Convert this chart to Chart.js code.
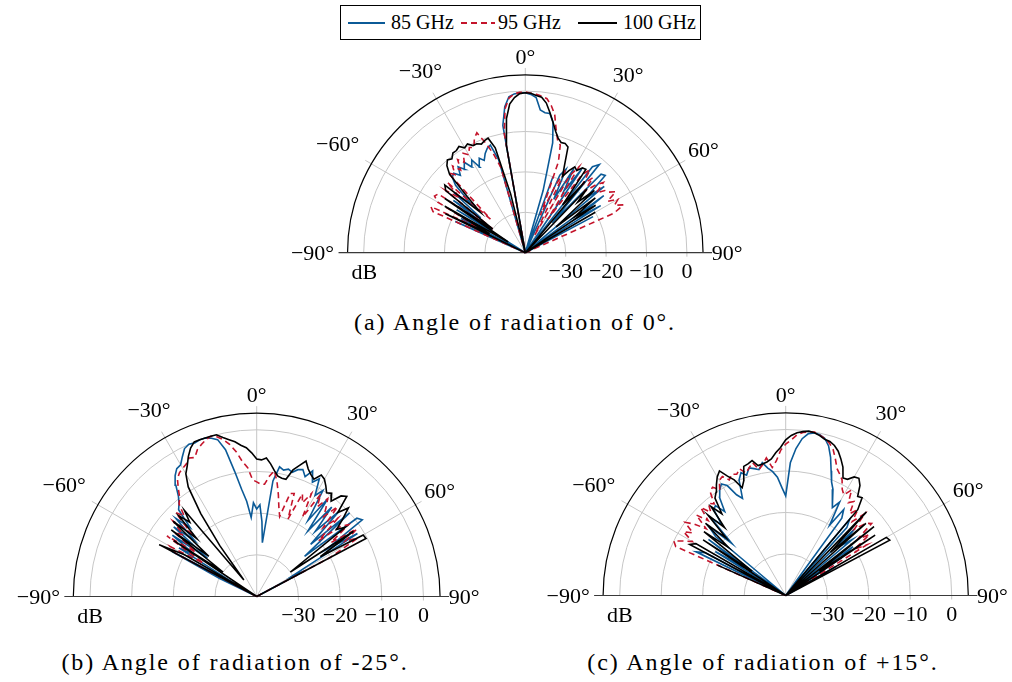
<!DOCTYPE html>
<html>
<head>
<meta charset="utf-8">
<title>Radiation patterns</title>
<script src="https://cdn.jsdelivr.net/npm/chart.js@4.4.1/dist/chart.umd.min.js"></script>
<style>
  body { margin: 0; background: #fff; }
  #page { position: relative; width: 1012px; height: 682px; overflow: hidden; font-family: "Liberation Serif", "Times New Roman", Times, "DejaVu Serif", serif; color: #000; }
  canvas { position: absolute; }
  .caption { position: absolute; width: 420px; text-align: center; font-size: 24px; line-height: 24px; letter-spacing: 1.9px; white-space: nowrap; }
  #legend { position: absolute; left: 340px; top: 5px; width: 361px; height: 35px; box-sizing: border-box; border: 1px solid #000; }
  #legend .sw { position: absolute; top: 16px; height: 1.6px; }
  #legend .lt { position: absolute; top: 6px; font-size: 20px; line-height: 20px; white-space: nowrap; }
</style>
</head>
<body>
<div id="page">
  <div id="legend">
    <span class="sw" style="left:7px;width:37px;background:#0b5a97"></span>
    <span class="lt" style="left:50px">85 GHz</span>
    <span class="sw" style="left:120px;width:34px;background:repeating-linear-gradient(to right,#c4142b 0 6px,transparent 6px 10px)"></span>
    <span class="lt" style="left:157px">95 GHz</span>
    <span class="sw" style="left:237px;width:39px;background:#000"></span>
    <span class="lt" style="left:282px">100 GHz</span>
  </div>
  <canvas id="plotA"></canvas>
  <canvas id="plotB"></canvas>
  <canvas id="plotC"></canvas>
  <div class="caption" style="left:305px;top:310px">(a) Angle of radiation of 0°.</div>
  <div class="caption" style="left:25px;top:650px">(b) Angle of radiation of -25°.</div>
  <div class="caption" style="left:553px;top:650px">(c) Angle of radiation of +15°.</div>
</div>
<script>
// Half-polar radiation patterns, radius in dB (-40 dB at the centre).

const R_MIN = -40;
const R_MAX = 4;
const RINGS = [-30, -20, -10, 0];
const SPOKES = [-90, -60, -30, 0, 30, 60, 90];

// measurement angles (deg), shared by every trace
const ANGLES = [
  -72, -70, -68, -66, -64, -62, -60, -58, -56, -54,
  -52, -50, -48, -46, -44, -42, -40, -38, -36, -34,
  -32, -30, -28, -26, -24, -22, -20, -18, -16, -14,
  -12, -10, -8, -6, -4, -2, 0, 2, 4, 6,
  8, 10, 12, 14, 16, 18, 20, 22, 24, 26,
  28, 30, 32, 34, 36, 38, 40, 42, 44, 46,
  48, 50, 52, 54, 56, 58, 60, 62, 64, 66,
  68, 70, 72
];

// (a) steering 0 deg
const A_85 = [
  -40, -40, -40, -21, -35, -22, -40, -20, -30, -18,
  -26, -17, -22, -16, -14, -13.5, -15, -13, -14.5, -13,
  -15, -13.5, -16, -14, -15, -13.5, -12.5, -12, -16, -40,
  -40, -8, -3.5, -1.2, -0.6, -0.4, -0.4, -0.8, -1.5, -4.5,
  -5, -5, -7, -12, -24, -40, -20, -40, -19, -17,
  -25, -16, -22, -15, -40, -13, -11.5, -30, -13, -12.5,
  -20, -14.5, -40, -16, -25, -18, -40, -21, -40, -40,
  -40, -40, -40
];
const A_95 = [
  -40, -40, -40, -15, -14, -28, -15, -13.5, -14, -30,
  -15, -19, -14, -28, -12.5, -14, -12, -14, -11.5, -13,
  -11, -12, -10.5, -11, -9, -8, -11, -14, -18, -40,
  -40, -10, -4, -1.5, -0.6, -0.3, -0.2, -0.5, -0.7, -1,
  -1.5, -3, -5, -8.5, -11, -12, -16, -30, -22, -17,
  -35, -18, -15, -30, -16, -14, -18, -15, -19, -16,
  -14, -17, -15, -14.5, -13, -16, -13.5, -15, -13, -16,
  -40, -40, -40
];
const A_100 = [
  -40, -40, -40, -40, -18, -30, -17, -35, -16, -30,
  -15, -14, -25, -20, -13, -11, -10, -10.5, -9.5, -9.5,
  -9, -10, -9.5, -10.5, -10.5, -11, -10.5, -10.2, -13, -25,
  -40, -13, -6.5, -3, -1.5, -0.6, -0.4, -0.5, -1, -1.3,
  -2.6, -4.8, -7, -9, -10.5, -11.3, -11.2, -11.8, -16, -19,
  -17, -15.5, -16, -14.7, -14.5, -25, -17, -40, -18, -22,
  -17, -30, -18, -25, -19, -40, -20, -40, -40, -40,
  -40, -40, -40
];

// (b) steering -25 deg
const B_85 = [
  -40, -40, -40, -40, -30, -17, -35, -18, -22, -15,
  -25, -14, -20, -13, -17, -12, -11, -9.5, -7, -5,
  -3.8, -3.5, -2, -0.5, 0, -0.3, 0, 0, -0.5, -1.2,
  -4, -9.5, -14, -17, -21, -17.5, -19, -18, -22, -27,
  -12, -8.4, -9, -8.5, -9, -8, -7.6, -9, -7, -9.5,
  -8, -12, -10, -18, -11, -20, -12, -19, -11.7, -22,
  -10, -25, -9.5, -8.7, -20, -11.5, -30, -27, -40, -40,
  -40, -40, -40
];
const B_95 = [
  -40, -40, -40, -40, -40, -18, -16, -25, -14, -22,
  -15, -17, -13, -18, -12, -14, -11, -10, -8, -6,
  -5, -4.5, -4, -3, -3.5, -2, -1.2, -0.5, 0, -0.5,
  -1.5, -3, -5, -7.5, -9, -12, -12.5, -13, -13, -11,
  -9.5, -12, -15, -18, -20, -14, -13.7, -20, -13, -15,
  -12, -18, -11, -14, -11, -13, -15, -11, -17, -13,
  -20, -14, -12, -18, -11, -15, -12, -20, -40, -40,
  -40, -40, -40
];
const B_100 = [
  -40, -40, -40, -40, -40, -13.5, -20, -40, -16, -30,
  -14, -25, -13, -20, -13, -16, -13, -35, -25, -16,
  -9, -6, -4.5, -2.6, -1, 0, 0, 0, 0, 0,
  -1, -1.8, -2.5, -3.5, -4.2, -5.5, -7, -7.2, -6.7, -8,
  -9.5, -10.7, -11, -11, -8.4, -7, -5.4, -7, -8, -8.7,
  -7, -7.5, -8.7, -10, -9.4, -11, -8.5, -7.7, -12, -9.4,
  -12.2, -15, -13, -30, -12, -22, -10.5, -10.3, -40, -40,
  -40, -40, -40
];

// (c) steering +15 deg
const C_85 = [
  -40, -40, -40, -40, -16, -18, -40, -20, -28, -17,
  -40, -18, -15, -22, -14, -17, -13, -12.5, -15, -11.5,
  -10, -9, -10, -13, -14.4, -10, -8.5, -9.5, -8, -8.5,
  -9, -7.5, -9, -10, -11.4, -14, -16, -8, -4.5, -2,
  -0.6, -0.2, -0.4, -1, -2.5, -5, -8, -10.5, -12, -14.4,
  -16, -14, -20, -15, -17, -40, -16, -18, -40, -17,
  -22, -19, -40, -20, -24, -40, -26, -40, -40, -40,
  -40, -40, -40
];
const C_95 = [
  -40, -40, -40, -11, -10, -12, -14, -11, -13, -10,
  -12, -15, -11, -14, -10.5, -13, -11, -12, -9, -8.5,
  -10, -8, -7.5, -9, -8, -8.5, -7.5, -9, -8, -7,
  -9, -8, -6.5, -9, -7.5, -5, -3.5, -2.5, -1.2, -0.5,
  -0.2, 0, -0.5, -1, -1.8, -3, -5, -7, -8, -9,
  -11, -12, -10, -13, -12, -15, -13, -16, -12.5, -17,
  -14, -13, -18, -15, -20, -17, -40, -40, -40, -40,
  -40, -40, -40
];
const C_100 = [
  -40, -40, -40, -22, -40, -13.8, -15, -40, -16, -30,
  -15, -22, -14, -20, -13, -18, -12, -15, -11, -10,
  -8.5, -7, -6, -8, -9.5, -12, -10.5, -7.3, -7, -6.5,
  -8, -7.8, -7.5, -6.9, -5.5, -4.3, -2.5, -1.4, -0.7, -0.3,
  0, -0.2, -0.6, -1.2, -1.4, -2, -3, -4.5, -6.1, -8.5,
  -8.3, -7, -6.7, -8, -10.5, -10.1, -13, -40, -12, -25,
  -14, -40, -13, -30, -14, -40, -12, -11.6, -40, -40,
  -40, -40, -40
];

const STYLE_85 = { borderColor: "#0b5a97", borderDash: [], order: 2 };
const STYLE_95 = { borderColor: "#c4142b", borderDash: [6, 4], order: 1 };
const STYLE_100 = { borderColor: "#000000", borderDash: [], order: 0 };

// label distance beyond the outer arc, per angle (px)
const LABEL_GAP = { "-90": 35, "-60": 39, "-30": 32, "0": 18, "30": 28, "60": 28, "90": 24 };
const FONT = '22px "Liberation Serif", "Times New Roman", Times, "DejaVu Serif", serif';

function toXY(dbs) {
  return ANGLES.map((a, i) => {
    const r = Math.max(dbs[i], R_MIN) - R_MIN;
    const t = a * Math.PI / 180;
    return { x: r * Math.sin(t), y: r * Math.cos(t) };
  });
}

const polarGrid = {
  id: "polarGrid",
  beforeDatasetsDraw(chart) {
    const { ctx } = chart;
    const sx = chart.scales.x, sy = chart.scales.y;
    const cx = sx.getPixelForValue(0), cy = sy.getPixelForValue(0);
    const k = sx.getPixelForValue(1) - cx;
    const R = (R_MAX - R_MIN) * k;
    ctx.save();
    ctx.strokeStyle = "#c6c6c6";
    ctx.lineWidth = 1;
    RINGS.forEach((db) => {
      ctx.beginPath();
      ctx.arc(cx, cy, (db - R_MIN) * k, Math.PI, 2 * Math.PI);
      ctx.stroke();
    });
    SPOKES.filter((a) => Math.abs(a) < 90).forEach((a) => {
      const t = a * Math.PI / 180;
      ctx.beginPath();
      ctx.moveTo(cx, cy);
      ctx.lineTo(cx + (R + 7) * Math.sin(t), cy - (R + 7) * Math.cos(t));
      ctx.stroke();
    });
    ctx.beginPath();
    RINGS.forEach((db) => {
      const px = cx + (db - R_MIN) * k;
      ctx.moveTo(px, cy);
      ctx.lineTo(px, cy + 4);
    });
    ctx.stroke();
    ctx.strokeStyle = "#000";
    ctx.lineWidth = 1.2;
    ctx.beginPath();
    ctx.arc(cx, cy, R, Math.PI, 2 * Math.PI);
    ctx.stroke();
    ctx.strokeStyle = "#3a3a3a";
    ctx.beginPath();
    ctx.moveTo(cx - R - 9, cy);
    ctx.lineTo(cx + R + 9, cy);
    ctx.stroke();
    ctx.restore();
  },
  afterDraw(chart) {
    const { ctx } = chart;
    const sx = chart.scales.x, sy = chart.scales.y;
    const cx = sx.getPixelForValue(0), cy = sy.getPixelForValue(0);
    const k = sx.getPixelForValue(1) - cx;
    const R = (R_MAX - R_MIN) * k;
    ctx.save();
    ctx.fillStyle = "#000";
    ctx.font = FONT;
    ctx.textBaseline = "alphabetic";
    ctx.textAlign = "center";
    SPOKES.forEach((a) => {
      const t = a * Math.PI / 180;
      const d = R + LABEL_GAP[String(a)];
      const x = cx + d * Math.sin(t);
      const y = cy - d * Math.cos(t);
      ctx.fillText((a < 0 ? "\u2212" : "") + Math.abs(a) + "\u00b0", x, y + 7);
    });
    RINGS.forEach((db) => {
      ctx.fillText((db < 0 ? "\u2212" : "") + Math.abs(db), cx + (db - R_MIN) * k, cy + 25);
    });
    ctx.textAlign = "left";
    ctx.fillText("dB", cx - R + 4, cy + 26);
    ctx.restore();
  }
};

const PLOTS = [
  { id: "plotA", left: 270, top: 40, width: 490, height: 250, cx: 525.3, cy: 252.7, k: 4.04, series: [A_85, A_95, A_100] },
  { id: "plotB", left: 0, top: 370, width: 515, height: 270, cx: 256.7, cy: 596.5, k: 4.1675, series: [B_85, B_95, B_100] },
  { id: "plotC", left: 520, top: 370, width: 492, height: 270, cx: 785.7, cy: 595.5, k: 4.15, series: [C_85, C_95, C_100] }
];
const STYLES = [STYLE_85, STYLE_95, STYLE_100];
const LABELS = ["85 GHz", "95 GHz", "100 GHz"];

function makeChart(p) {
  const cv = document.getElementById(p.id);
  cv.width = p.width;
  cv.height = p.height;
  cv.style.left = p.left + "px";
  cv.style.top = p.top + "px";
  cv.style.width = p.width + "px";
  cv.style.height = p.height + "px";
  new Chart(cv, {
    type: "scatter",
    data: {
      datasets: p.series.map((dbs, i) => ({
        label: LABELS[i],
        data: toXY(dbs),
        showLine: true,
        borderWidth: 1.6,
        pointRadius: 0,
        tension: 0,
        ...STYLES[i]
      }))
    },
    options: {
      responsive: false,
      animation: false,
      layout: { padding: 0 },
      scales: {
        x: { type: "linear", display: false, min: (p.left - p.cx) / p.k, max: (p.left + p.width - p.cx) / p.k },
        y: { type: "linear", display: false, min: (p.cy - p.top - p.height) / p.k, max: (p.cy - p.top) / p.k }
      },
      plugins: { legend: { display: false }, tooltip: { enabled: false } }
    },
    plugins: [polarGrid]
  });
}

PLOTS.forEach(makeChart);
</script>
</body>
</html>
